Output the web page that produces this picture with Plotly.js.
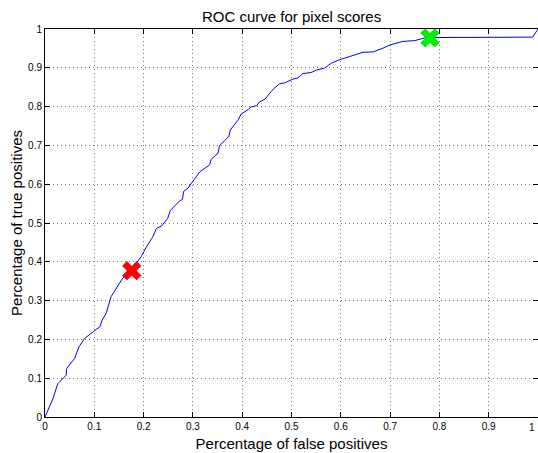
<!DOCTYPE html>
<html>
<head>
<meta charset="utf-8">
<script src="https://cdn.plot.ly/plotly-3.0.1.min.js"></script>
<style>html,body{margin:0;padding:0;background:#fff;} #chart{width:538px;height:453px;}</style>
</head>
<body>
<div id="chart"></div>
<script>
var fpr = [0, 0.016, 0.026, 0.036, 0.043, 0.044, 0.060, 0.069, 0.080, 0.104, 0.111, 0.116, 0.124, 0.134, 0.143, 0.155, 0.166, 0.176, 0.185, 0.195, 0.205, 0.219, 0.226, 0.236, 0.249, 0.254, 0.265, 0.273, 0.279, 0.281, 0.290, 0.300, 0.314, 0.334, 0.337, 0.351, 0.354, 0.364, 0.373, 0.376, 0.385, 0.392, 0.398, 0.412, 0.417, 0.429, 0.436, 0.446, 0.459, 0.463, 0.476, 0.486, 0.503, 0.513, 0.523, 0.540, 0.552, 0.567, 0.581, 0.598, 0.618, 0.635, 0.645, 0.666, 0.676, 0.686, 0.700, 0.726, 0.750, 0.770, 0.790, 0.989, 1.0];
var tpr = [0, 0.047, 0.086, 0.099, 0.108, 0.125, 0.151, 0.181, 0.202, 0.226, 0.232, 0.250, 0.267, 0.310, 0.329, 0.353, 0.370, 0.383, 0.396, 0.413, 0.437, 0.465, 0.486, 0.492, 0.512, 0.532, 0.546, 0.557, 0.561, 0.581, 0.590, 0.608, 0.632, 0.650, 0.664, 0.680, 0.699, 0.712, 0.723, 0.740, 0.756, 0.766, 0.781, 0.792, 0.799, 0.802, 0.813, 0.819, 0.839, 0.845, 0.859, 0.861, 0.871, 0.874, 0.885, 0.888, 0.895, 0.899, 0.912, 0.921, 0.929, 0.935, 0.940, 0.941, 0.945, 0.951, 0.959, 0.968, 0.970, 0.977, 0.978, 0.979, 1.0];
var redPoint = {x: [0.176], y: [0.377]};
var greenPoint = {x: [0.781], y: [0.977]};
var tickVals = [0, 0.1, 0.2, 0.3, 0.4, 0.5, 0.6, 0.7, 0.8, 0.9, 1];
var tickText = ['0', '0.1', '0.2', '0.3', '0.4', '0.5', '0.6', '0.7', '0.8', '0.9', '1'];

var font = 'Liberation Sans, Arial, Helvetica, sans-serif';
var traces = [
  {x: fpr, y: tpr, type: 'scatter', mode: 'lines', line: {color: '#0000ff', width: 1}, hoverinfo: 'skip'},
  {x: redPoint.x, y: redPoint.y, type: 'scatter', mode: 'markers',
   marker: {symbol: 'x', size: 17, color: '#ff0000', line: {width: 0}}},
  {x: greenPoint.x, y: greenPoint.y, type: 'scatter', mode: 'markers',
   marker: {symbol: 'x', size: 17, color: '#00ee00', line: {width: 0}}}
];
var axisCommon = {
  range: [0, 1], tickvals: tickVals, ticktext: tickText,
  ticks: 'inside', ticklen: 5, tickwidth: 1, tickcolor: '#000',
  showline: true, linecolor: '#000', linewidth: 1, mirror: 'allticks',
  showgrid: true, gridcolor: '#777', griddash: '1px,3px', gridwidth: 1,
  zeroline: false, tickfont: {family: font, size: 10, color: '#000'},
  fixedrange: true
};
var layout = {
  width: 538, height: 453,
  margin: {l: 45, r: 0, t: 29, b: 36},
  paper_bgcolor: '#fff', plot_bgcolor: '#fff',
  showlegend: false,
  font: {family: font, color: '#000'},
  title: {text: 'ROC curve for pixel scores', font: {family: font, size: 15, color: '#000'},
          x: 0.542, xanchor: 'center', y: 1 - 17/453, yanchor: 'middle', yref: 'container'},
  xaxis: Object.assign({}, axisCommon, {
    title: {text: 'Percentage of false positives', font: {family: font, size: 15, color: '#000'}, standoff: 7}
  }),
  yaxis: Object.assign({}, axisCommon, {
    title: {text: 'Percentage of true positives', font: {family: font, size: 15, color: '#000'}, standoff: 1}
  }),
  annotations: [{
    x: tickVals[tickVals.length - 1], y: 0, xref: 'x', yref: 'paper',
    text: tickText[tickText.length - 1], showarrow: false,
    xanchor: 'right', yanchor: 'top', yshift: -3, xshift: -1,
    font: {family: font, size: 10, color: '#000'}
  }]
};
Plotly.newPlot('chart', traces, layout, {displayModeBar: false, staticPlot: true});
</script>
</body>
</html>
